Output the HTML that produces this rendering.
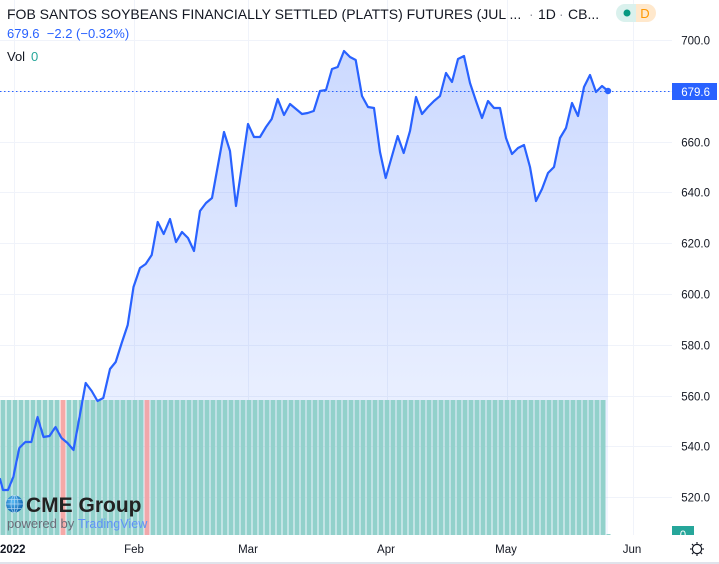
<!DOCTYPE html>
<html>
<head>
<meta charset="utf-8">
<style>
  html,body{margin:0;padding:0;background:#fff;}
  svg{display:block;}
  text{font-family:"Liberation Sans", Arial, sans-serif;}
</style>
</head>
<body>
<svg width="719" height="564" viewBox="0 0 719 564" xmlns="http://www.w3.org/2000/svg">
  <defs>
    <linearGradient id="area" x1="0" y1="50" x2="0" y2="535" gradientUnits="userSpaceOnUse">
      <stop offset="0" stop-color="#2962ff" stop-opacity="0.24"/>
      <stop offset="1" stop-color="#2962ff" stop-opacity="0.05"/>
    </linearGradient>
    <pattern id="vb" x="0.5" y="400" width="6" height="135" patternUnits="userSpaceOnUse">
      <rect x="0" y="0" width="5" height="135" fill="#92d1cb"/>
    </pattern>
    <radialGradient id="globe" cx="0.4" cy="0.35" r="0.7">
      <stop offset="0" stop-color="#5bbcf5"/>
      <stop offset="1" stop-color="#0a5fae"/>
    </radialGradient>
  </defs>

  <rect x="0" y="0" width="719" height="564" fill="#ffffff"/>

  <!-- grid -->
  <g stroke="#f0f3fa" stroke-width="1">
    <line x1="14.5" y1="0" x2="14.5" y2="535"/>
    <line x1="134.5" y1="0" x2="134.5" y2="535"/>
    <line x1="248.5" y1="0" x2="248.5" y2="535"/>
    <line x1="387.5" y1="0" x2="387.5" y2="535"/>
    <line x1="507.5" y1="0" x2="507.5" y2="535"/>
    <line x1="633.5" y1="0" x2="633.5" y2="535"/>
    <line x1="0" y1="40.5" x2="672" y2="40.5"/>
    <line x1="0" y1="91.5" x2="672" y2="91.5"/>
    <line x1="0" y1="142.5" x2="672" y2="142.5"/>
    <line x1="0" y1="192.5" x2="672" y2="192.5"/>
    <line x1="0" y1="243.5" x2="672" y2="243.5"/>
    <line x1="0" y1="294.5" x2="672" y2="294.5"/>
    <line x1="0" y1="345.5" x2="672" y2="345.5"/>
    <line x1="0" y1="396.5" x2="672" y2="396.5"/>
    <line x1="0" y1="446.5" x2="672" y2="446.5"/>
    <line x1="0" y1="497.5" x2="672" y2="497.5"/>
  </g>

  <!-- area fill -->
  <polygon fill="url(#area)" points="0,479 3,490 8,490 13.3,477 19.3,448 25.3,442 31.3,442 37.5,417 43.5,437 49.5,436 55.5,427 61.5,438 67.5,443 73.5,450 85.7,383 91.7,391 97.5,401 103.3,398 110,369 115.7,362 121.7,343 127.7,325 133.5,287 140,268 145.7,264 151.7,255 157.7,222 163.7,234 170,219 176,242 182,232 188,238 194,251 200,211 206,203 212,198 224,132 230,151 236,206 248,124 254,137 260,137 266,127 271.7,119 277.7,99 284,115 290,104 296,109 302,114 307.7,113 313.7,111 320,91 326,90 332,69 337.7,67 344,51 350,57 355.7,60 362,96 368,107 374,108 380,152 385.7,178 391.7,157 397.7,136 403.7,153 410,131 416,97 422,114 428,107 434,101 440,96 446,73 452,82 458,59 464,56 470,83 476,101 482,118 488,101 494,108 500,108 506,138 512,154 518,148 524,145 530,167 536,201 542,189 548,173 554,167 560,138 566,128 572,103 578,116 584,87 590,75 596,92 602,86 608,91 608,535 0,535"/>

  <!-- volume bars -->
  <rect x="0" y="400" width="605.5" height="135" fill="url(#vb)"/>
  <rect x="60.5" y="400" width="5" height="135" fill="#f5a9a7"/>
  <rect x="144.5" y="400" width="5" height="135" fill="#f0a8ab"/>
  <rect x="606.5" y="534" width="4" height="1" fill="#92d1cb"/>

  <!-- last price dotted line -->
  <line x1="0" y1="91.5" x2="672" y2="91.5" stroke="#2962ff" stroke-width="1" stroke-dasharray="1.5 2.5"/>

  <!-- price line -->
  <polyline fill="none" stroke="#2962ff" stroke-width="2.2" stroke-linejoin="round" stroke-linecap="round" points="0,479 3,490 8,490 13.3,477 19.3,448 25.3,442 31.3,442 37.5,417 43.5,437 49.5,436 55.5,427 61.5,438 67.5,443 73.5,450 85.7,383 91.7,391 97.5,401 103.3,398 110,369 115.7,362 121.7,343 127.7,325 133.5,287 140,268 145.7,264 151.7,255 157.7,222 163.7,234 170,219 176,242 182,232 188,238 194,251 200,211 206,203 212,198 224,132 230,151 236,206 248,124 254,137 260,137 266,127 271.7,119 277.7,99 284,115 290,104 296,109 302,114 307.7,113 313.7,111 320,91 326,90 332,69 337.7,67 344,51 350,57 355.7,60 362,96 368,107 374,108 380,152 385.7,178 391.7,157 397.7,136 403.7,153 410,131 416,97 422,114 428,107 434,101 440,96 446,73 452,82 458,59 464,56 470,83 476,101 482,118 488,101 494,108 500,108 506,138 512,154 518,148 524,145 530,167 536,201 542,189 548,173 554,167 560,138 566,128 572,103 578,116 584,87 590,75 596,92 602,86 608,91"/>
  <circle cx="608" cy="91" r="3.2" fill="#2962ff"/>

  <!-- header -->
  <text x="7" y="19" font-size="14" fill="#131722">FOB SANTOS SOYBEANS FINANCIALLY SETTLED (PLATTS) FUTURES (JUL ...</text>
  <text x="529" y="19" font-size="14" fill="#9598a1">·</text>
  <text x="538" y="19" font-size="14" fill="#131722">1D</text>
  <text x="559" y="19" font-size="14" fill="#9598a1">·</text>
  <text x="568" y="19" font-size="14" fill="#131722">CB...</text>

  <g>
    <path d="M625,4 h11 v18 h-11 a9,9 0 0 1 0,-18 z" fill="#daf1ed"/>
    <path d="M636,4 h11 a9,9 0 0 1 0,18 h-11 z" fill="#ffe8cc"/>
    <circle cx="627" cy="13" r="3.5" fill="#089981"/>
    <text x="645" y="18" font-size="13" fill="#ff9800" text-anchor="middle">D</text>
  </g>

  <text x="7" y="38" font-size="13" fill="#2962ff" xml:space="preserve">679.6  −2.2 (−0.32%)</text>
  <text x="7" y="61" font-size="13" fill="#131722">Vol</text>
  <text x="31" y="61" font-size="13" fill="#26a69a">0</text>

  <!-- price axis -->
  <g font-size="11.5" fill="#131722" text-anchor="end">
    <text x="710" y="44.5">700.0</text>
    <text x="710" y="146.5">660.0</text>
    <text x="710" y="196.5">640.0</text>
    <text x="710" y="247.5">620.0</text>
    <text x="710" y="298.5">600.0</text>
    <text x="710" y="349.5">580.0</text>
    <text x="710" y="400.5">560.0</text>
    <text x="710" y="450.5">540.0</text>
    <text x="710" y="501.5">520.0</text>
  </g>
  <rect x="672" y="83" width="45" height="17" fill="#2962ff"/>
  <text x="710" y="96" font-size="11.5" fill="#ffffff" text-anchor="end">679.6</text>

  <svg x="672" y="526" width="22" height="9" overflow="hidden">
    <rect x="0" y="0" width="22" height="9" fill="#26a69a"/>
    <text x="11" y="13" font-size="11.5" fill="#ffffff" text-anchor="middle">0</text>
  </svg>

  <!-- CME logo -->
  <g>
    <circle cx="14.5" cy="504" r="8.5" fill="url(#globe)"/>
    <g stroke="#cfe9fb" stroke-width="0.7" fill="none" opacity="0.8">
      <ellipse cx="14.5" cy="504" rx="3.5" ry="8.5"/>
      <line x1="14.5" y1="495.5" x2="14.5" y2="512.5"/>
      <line x1="6" y1="504" x2="23" y2="504"/>
      <line x1="7.5" y1="499.5" x2="21.5" y2="499.5"/>
      <line x1="7.5" y1="508.5" x2="21.5" y2="508.5"/>
    </g>
    <text x="26" y="512" font-size="21" font-weight="bold" fill="#222222">CME Group</text>
    <text x="7" y="528" font-size="13" fill="#6a6d78">powered by</text>
    <text x="78" y="528" font-size="12.6" fill="#5f92f8">TradingView</text>
  </g>

  <!-- time axis -->
  <rect x="0" y="535" width="719" height="27" fill="#ffffff"/>
  <g font-size="11.5" fill="#131722" text-anchor="middle">
    <text x="0" y="553" font-weight="bold" text-anchor="start">2022</text>
    <text x="134" y="553">Feb</text>
    <text x="248" y="553">Mar</text>
    <text x="386" y="553">Apr</text>
    <text x="506" y="553">May</text>
    <text x="632" y="553">Jun</text>
  </g>

  <!-- settings gear -->
  <g stroke="#131722" stroke-width="1.2" fill="none">
    <circle cx="697" cy="549" r="4.6"/>
    <line x1="697" y1="542" x2="697" y2="543.8"/>
    <line x1="697" y1="554.2" x2="697" y2="556"/>
    <line x1="690" y1="549" x2="691.8" y2="549"/>
    <line x1="702.2" y1="549" x2="704" y2="549"/>
    <line x1="692" y1="544" x2="693.4" y2="545.4"/>
    <line x1="700.6" y1="552.6" x2="702" y2="554"/>
    <line x1="702" y1="544" x2="700.6" y2="545.4"/>
    <line x1="693.4" y1="552.6" x2="692" y2="554"/>
  </g>

  <rect x="0" y="562" width="719" height="2" fill="#e0e3eb"/>
</svg>
</body>
</html>
